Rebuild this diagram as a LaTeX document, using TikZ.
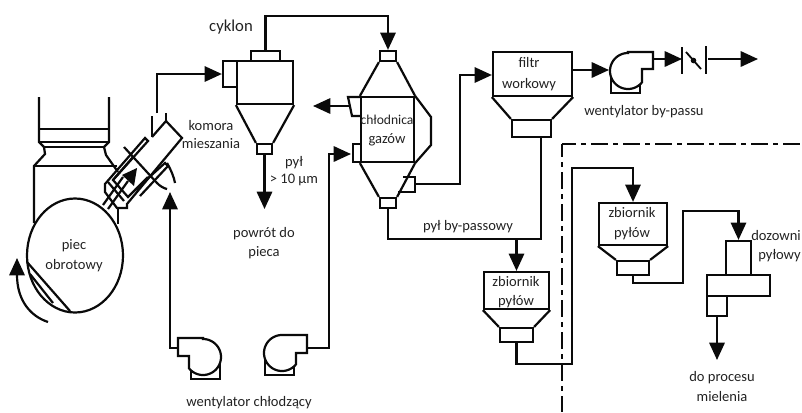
\documentclass[tikz,border=0pt]{standalone}
\usepackage{fontspec}
\setmainfont{Carlito}
\usetikzlibrary{arrows.meta,shapes.geometric}
\definecolor{ink}{HTML}{0A0A0A}
\definecolor{txt}{HTML}{222222}
\tikzset{
  ln/.style={line width=1.65pt,draw=ink,line join=miter},
  thin ln/.style={line width=1.35pt,draw=ink},
  flow/.style={ln,-{Triangle[length=13pt,width=11.5pt]}},
  lbl/.style={font=\fontsize{10.9pt}{12pt}\selectfont,text=txt,inner sep=0pt,text height=7.5pt,text depth=0.5pt},
  dashdot/.style={line width=1.65pt,draw=ink,dash pattern=on 12.75pt off 3.75pt on 3.75pt off 3.75pt}
}
% name, x1, y1, x2, y2
\newcommand{\pbox}[5]{\node[ln,draw,rectangle,inner sep=0pt,minimum width={(#4-#2)*0.75pt},minimum height={(#5-#3)*0.75pt}] (#1) at ({(#2+#4)/2},{(#3+#5)/2}) {};}
% name, x, y, mirror, top, outlet bottom
\newcommand{\fanunit}[6]{%
\begin{scope}[shift={(#2,#3)},xscale=#4]
 \draw[ln] (0,#5) -- (25,#5) -- (25,#6) -- (14,#6) -- (14,11) -- plot[domain=39:270,samples=50] ({18*cos(\x)},{18*sin(\x)}) -- cycle;
 \draw[ln] (-17,6) -- (-17,22) -- (12,22) -- (12,13);
 \coordinate (#1 out) at (25,{(#5+#6)/2});
\end{scope}}
\begin{document}
\begin{tikzpicture}[x=0.75pt,y=-0.75pt]
\useasboundingbox (0,0) rectangle (802,412);
% kiln
\draw[ln] (39,97) -- (39,142) -- (44,147) -- (45,154) -- (34,166) -- (34,223);
\draw[ln] (109,97) -- (109,142) -- (104,147) -- (106,155) -- (118,172);
\draw[ln] (39,129) -- (109,129);
\draw[ln] (39,142) -- (109,142);
\draw[ln] (44,147) -- (104,147);
\draw[ln] (34,166) -- (117,166);
\draw[ln] (118,208) -- (118,224);
\node[ln,draw,ellipse,inner sep=0pt,minimum width=72pt,minimum height=85.5pt] (kiln) at (75,255.5) {};
\draw[ln] (27,262) -- (70,311);
\draw[ln] (30,274) -- (53,303);
\coordinate (rotstart) at (48,322);
\coordinate (rottip) at (17,258);
\draw[flow] (rotstart) .. controls (30,316) and (17,300) .. (rottip);
% mixing chamber
\coordinate (mixA) at (166,121);
\coordinate (mixB) at (182,138);
\draw[ln] (mixA) -- (mixB) -- (127,204) -- (127,208) -- (117,208) -- (105,192) -- (105,184) -- (145,138) -- (148,141) -- (113,180) -- (128,197) -- (148,177);
\draw[ln] (152,137) -- (mixA);
\draw[ln] (108,182) -- (124,201);
\draw[ln] (152,116) -- (152,137);
\draw[ln] (166,113) -- (166,121);
\draw[ln] (113,180) -- (133,157);
\draw[ln] (124,147) -- (157,183) .. controls (160,186) and (163,188) .. (167,189);
\draw[ln] (135,190) -- (165,163) -- (168,166) -- (140,196);
\draw[ln] (167,163) .. controls (171,170) and (174,177) .. (175,183);
\draw[ln] (103,205) -- (123,177);
\draw[ln] (108,209) -- (128,181);
\fill[ink] (137,168) -- (122,175) -- (134,186) -- cycle;
% cyclone
\pbox{cycbody}{237}{61}{293}{104}
\pbox{cyctop}{251}{51}{280}{61}
\pbox{cycin}{223}{61}{237}{87}
\pbox{cycout}{257}{144}{272}{154}
\draw[ln] (cycbody.south west) -- (cycout.north west);
\draw[ln] (cycbody.south east) -- (cycout.north east);
% cooler
\pbox{coolbody}{361}{97}{414}{162}
\pbox{cooltop}{380}{51}{396}{61}
\pbox{coolbot}{380}{198}{396}{208}
\pbox{coolin}{353}{144}{361}{162}
\draw[ln] (cooltop.south west) -- (coolbody.north west);
\draw[ln] (cooltop.south east) -- (coolbody.north east);
\draw[ln] (coolbody.south west) -- (coolbot.north west);
\draw[ln] (coolbody.south east) -- (coolbot.north east);
\draw[ln] (coolbody.north east) -- (431,117) -- (431,145) -- (coolbody.south east);
\draw[ln] (361,97) -- (348,97) -- (352,116) -- (361,116);
\coordinate (coolgasout) at (350,106);
\draw[ln] (403,177) -- (415,177) -- (415,192) -- (398,192);
\coordinate (cooloutr) at (415,184);
% filter
\pbox{filtbody}{493}{52}{572}{96}
\pbox{filtbot}{512}{120}{551}{137}
\draw[ln] (filtbody.south west) -- (filtbot.north west);
\draw[ln] (filtbody.south east) -- (filtbot.north east);
% hoppers
\pbox{zb1}{484}{272}{549}{309}
\pbox{zb1bot}{500}{328}{533}{342}
\draw[ln] (zb1.south west) -- (zb1bot.north west);
\draw[ln] (zb1.south east) -- (zb1bot.north east);
\pbox{zb2}{599}{203}{667}{245}
\pbox{zb2bot}{617}{261}{649}{275}
\draw[ln] (zb2.south west) -- (zb2bot.north west);
\draw[ln] (zb2.south east) -- (zb2bot.north east);
% feeder
\pbox{doztop}{726}{241}{751}{275}
\pbox{dozmid}{707}{275}{770}{296}
\pbox{dozbot}{707}{296}{727}{316}
% fans
\fanunit{fanbp}{628}{71}{1}{-19}{-2}
\fanunit{fanr}{282}{353}{1}{-18}{0}
\fanunit{fanl}{203}{357}{-1}{-19}{-1}
% damper
\coordinate (dampL) at (682,59);
\draw[thin ln] (682,47) -- (682,74);
\draw[thin ln] (706,46) -- (706,74);
\coordinate (dampR) at (708,59);
\draw[thin ln] (686,52) -- (701,69);
\fill[ink] (693.5,60.5) circle (2.8);
% coords for connectors
\coordinate (b1) at (264.5,209);
\coordinate (bTop0) at (265.5,16);
\coordinate (bTop) at (388,16);
\coordinate (bGas) at (313,106);
\coordinate (bFl) at (170,348);
\coordinate (bFlt) at (170,192);
\coordinate (bFr) at (329,348);
\coordinate (bFrt) at (329,154);
\coordinate (bCoIn) at (351,154);
\coordinate (bCo) at (460,184);
\coordinate (bCo2) at (460,75);
\coordinate (bFa) at (609,70);
\coordinate (bFa0) at (653,59);
\coordinate (bEnd) at (758,59);
\coordinate (bMix) at (157,113);
\coordinate (bMix2) at (157,74);
\coordinate (bDust0) at (541,137);
\coordinate (bDust) at (541,239);
\coordinate (bDust2) at (388,239);
\coordinate (bZ1) at (516.5,239);
\coordinate (bZ1a) at (516.5,364);
\coordinate (bZ1b) at (572,364);
\coordinate (bZ1c) at (572,168);
\coordinate (bZ1d) at (633,168);
\coordinate (bZ2a) at (633,283);
\coordinate (bZ2b) at (683,283);
\coordinate (bZ2c) at (683,211);
\coordinate (bZ2d) at (738.5,211);
\coordinate (bOut) at (717,360);
% connectors
\draw[flow] (bMix) -- (bMix2) -- (cycin.west |- bMix2);
\draw[flow] (cyctop.north) -- (bTop0) -- (bTop) -- (cooltop.north);
\draw[flow] (cycout.south) -- (b1);
\draw[flow] (coolgasout) -- (bGas);
\draw[flow] (fanl out |- bFl) -- (bFl) -- (bFlt);
\draw[flow] (fanr out |- bFr) -- (bFr) -- (bFrt) -- (bCoIn);
\draw[flow] (cooloutr) -- (bCo) -- (bCo2) -- (filtbody.west |- bCo2);
\draw[flow] (filtbody.east |- bFa) -- (bFa);
\draw[flow] (bFa0) -- (dampL);
\draw[flow] (dampR) -- (bEnd);
\draw[ln] (bDust0) -- (bDust) -- (bDust2) -- (coolbot.south);
\draw[flow] (bZ1) -- (zb1.north);
\draw[flow] (zb1bot.south) -- (bZ1a) -- (bZ1b) -- (bZ1c) -- (bZ1d) -- (zb2.north);
\draw[flow] (zb2bot.south) -- (bZ2a) -- (bZ2b) -- (bZ2c) -- (bZ2d) -- (doztop.north);
\draw[flow] (dozbot.south -| bOut) -- (bOut);
% boundary
\coordinate (cornerB) at (562,144);
\coordinate (endH) at (802,144);
\coordinate (endV) at (562,412);
\draw[dashdot,dash phase=2pt] (cornerB) -- (endH);
\draw[dashdot,dash phase=3pt] (cornerB) -- (endV);
% labels
\node[lbl,font=\fontsize{12.5pt}{15pt}\selectfont] (t1) at (231,27) {cyklon};
\node[lbl] (t2) at (211,126) {komora};
\node[lbl] (t3) at (211,144) {mieszania};
\node[lbl] (t4) at (74,245) {piec};
\node[lbl] (t5) at (74,265) {obrotowy};
\node[lbl] (t6) at (294,162) {pył};
\node[lbl] (t7) at (294,179) {> 10 µm};
\node[lbl] (t8) at (264,233) {powrót do};
\node[lbl] (t9) at (264,252) {pieca};
\node[lbl,font=\fontsize{10.2pt}{12pt}\selectfont] (t10) at (387,120) {chłodnica};
\node[lbl] (t11) at (387,139) {gazów};
\node[lbl] (t12) at (468,226) {pył by-passowy};
\node[lbl] (t13) at (529,63) {filtr};
\node[lbl] (t14) at (529,84) {workowy};
\node[lbl] (t15) at (644,111) {wentylator by-passu};
\node[lbl] (t16) at (516,282) {zbiornik};
\node[lbl] (t17) at (516,301) {pyłów};
\node[lbl] (t18) at (632,213) {zbiornik};
\node[lbl] (t19) at (632,233) {pyłów};
\node[lbl,anchor=east] (t20) at (801,236) {dozowni};
\node[lbl,anchor=east] (t21) at (801,255) {pyłowy};
\node[lbl] (t22) at (722,377) {do procesu};
\node[lbl] (t23) at (722,397) {mielenia};
\node[lbl] (t24) at (249,402) {wentylator chłodzący};
\end{tikzpicture}
\end{document}
